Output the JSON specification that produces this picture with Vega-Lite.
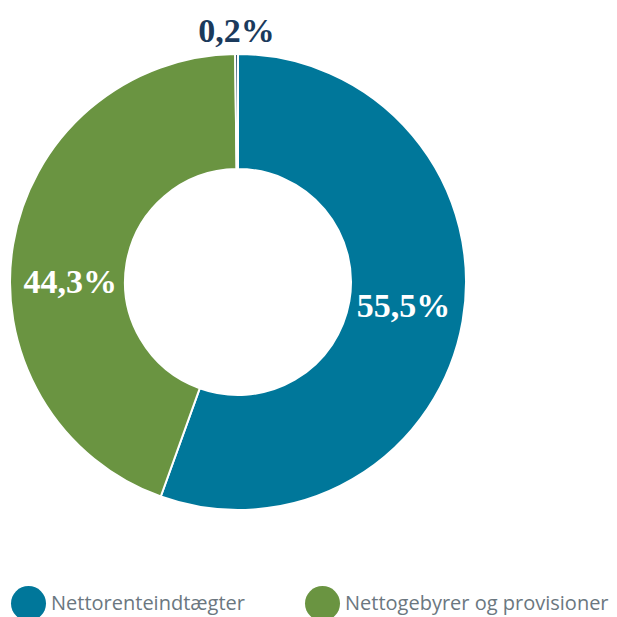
{
  "$schema": "https://vega.github.io/schema/vega-lite/v6.json",
  "width": 476,
  "height": 564,
  "autosize": "none",
  "padding": {"left": 0, "top": 0, "right": 141, "bottom": 53},
  "background": "white",
  "config": {"view": {"stroke": null}},
  "data": {
    "values": [
      {"kategori": "Nettorenteindtægter", "andel": 55.5, "tekst": "55,5%", "rk": 1},
      {"kategori": "Nettogebyrer og provisioner", "andel": 44.3, "tekst": "44,3%", "rk": 2},
      {"kategori": "Øvrige indtægter", "andel": 0.2, "tekst": "0,2%", "rk": 3}
    ]
  },
  "encoding": {
    "theta": {"field": "andel", "type": "quantitative", "stack": true},
    "order": {"field": "rk", "type": "quantitative"}
  },
  "layer": [
    {
      "mark": {"type": "arc", "outerRadius": 228, "innerRadius": 113, "stroke": "white", "strokeWidth": 2},
      "encoding": {
        "color": {
          "field": "kategori",
          "type": "nominal",
          "scale": {
            "domain": ["Nettorenteindtægter", "Nettogebyrer og provisioner", "Øvrige indtægter"],
            "range": ["#00779a", "#6a9441", "#1b3a5c"]
          },
          "legend": {
            "values": ["Nettorenteindtægter", "Nettogebyrer og provisioner"],
            "title": null,
            "orient": "none",
            "legendX": 11,
            "legendY": 586,
            "direction": "horizontal",
            "columns": 2,
            "columnPadding": 60,
            "symbolType": "circle",
            "symbolSize": 1225,
            "symbolStrokeWidth": 0,
            "symbolOpacity": 1,
            "labelFont": "Open Sans",
            "labelFontSize": 20,
            "labelColor": "#6b7780",
            "labelOffset": 5,
            "labelLimit": 400
          }
        }
      }
    },
    {
      "mark": {"type": "text", "radius": 168, "dy": -4, "font": "Liberation Serif", "fontWeight": "bold", "fontSize": 34, "color": "white", "baseline": "middle", "align": "center"},
      "encoding": {
        "text": {"field": "tekst"},
        "opacity": {"condition": {"test": "datum.rk == 1", "value": 1}, "value": 0}
      }
    },
    {
      "mark": {"type": "text", "radius": 170, "dy": 29, "font": "Liberation Serif", "fontWeight": "bold", "fontSize": 34, "color": "white", "baseline": "middle", "align": "center"},
      "encoding": {
        "text": {"field": "tekst"},
        "opacity": {"condition": {"test": "datum.rk == 2", "value": 1}, "value": 0}
      }
    },
    {
      "mark": {"type": "text", "radius": 250, "font": "Liberation Serif", "fontWeight": "bold", "fontSize": 34, "color": "#1b3a5c", "baseline": "middle", "align": "center"},
      "encoding": {
        "text": {"field": "tekst"},
        "opacity": {"condition": {"test": "datum.rk == 3", "value": 1}, "value": 0}
      }
    }
  ]
}
